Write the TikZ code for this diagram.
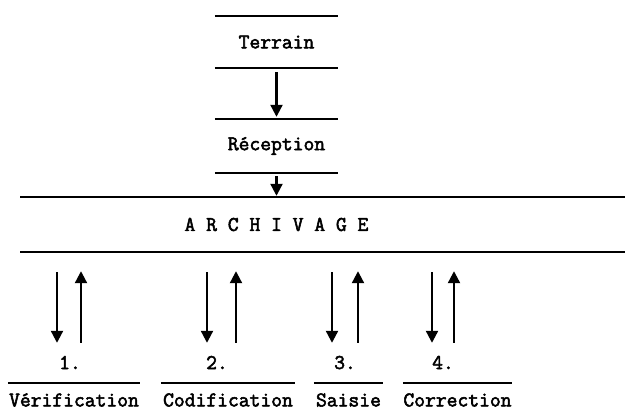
\documentclass[tikz,border=0pt]{standalone}
\usepackage{fontspec}
\setmonofont{Latin Modern Mono}[AutoFakeBold=2.5]
\usetikzlibrary{arrows.meta}
\usetikzlibrary{positioning}

\begin{document}
\begin{tikzpicture}[
    x=1pt, y=-1pt,
    every node/.style={font=\fontsize{21}{23}\selectfont\ttfamily\bfseries, inner sep=0pt},
    stage/.style={minimum width=123pt},
    stepbox/.style={minimum height=34pt},
    num/.style={text height=14pt, text depth=0pt},
    rule/.style={line width=2.4pt},
    flow/.style={line width=2.2pt, -{Triangle[width=12pt,length=12pt]}},
]
\useasboundingbox (0,0) rectangle (625,420);

% upper chain
\node[stage, minimum height=52pt] (terrain) at (276.5,42) {Terrain};
\node[stage, minimum height=54pt] (reception) at (276.5,146) {Réception};
\node[minimum height=55pt] (archivage) at (276.5,224.5) {A R C H I V A G E};

\draw[rule] (terrain.north west) -- (terrain.north east);
\draw[rule] (terrain.south west) -- (terrain.south east);
\draw[rule] (reception.north west) -- (reception.north east);
\draw[rule] (reception.south west) -- (reception.south east);
\draw[rule] (archivage.north -| 20,0) -- (archivage.north -| 625,0);
\draw[rule] (archivage.south -| 20,0) -- (archivage.south -| 625,0);

\draw[flow, shorten <=4pt, shorten >=2pt] (terrain.south) -- (reception.north);
\draw[flow, shorten <=3pt, shorten >=1pt] (reception.south) -- (archivage.north);

% the four steps
\foreach \i/\x/\w/\t in {1/74/132/Vérification, 2/228/134/Codification,
                         3/348.5/69/Saisie, 4/457.5/109/Correction} {
    \node[stepbox, minimum width=\w pt] (s\i) at (\x,400) {\t};
    \draw[rule] (s\i.north west) -- (s\i.north east);
}
\foreach \i/\x/\dx/\ux in {1/70/57/81, 2/217/207/236, 3/345/332/358, 4/443/432/454} {
    \node[num] (n\i) at (\x,362) {\i.};
    \draw[flow, shorten <=20pt, shorten >=12pt] (archivage.south -| \dx,0) -- (n\i.north -| \dx,0);
    \draw[flow, shorten <=12pt, shorten >=19pt] (n\i.north -| \ux,0) -- (archivage.south -| \ux,0);
}
\end{tikzpicture}
\end{document}
